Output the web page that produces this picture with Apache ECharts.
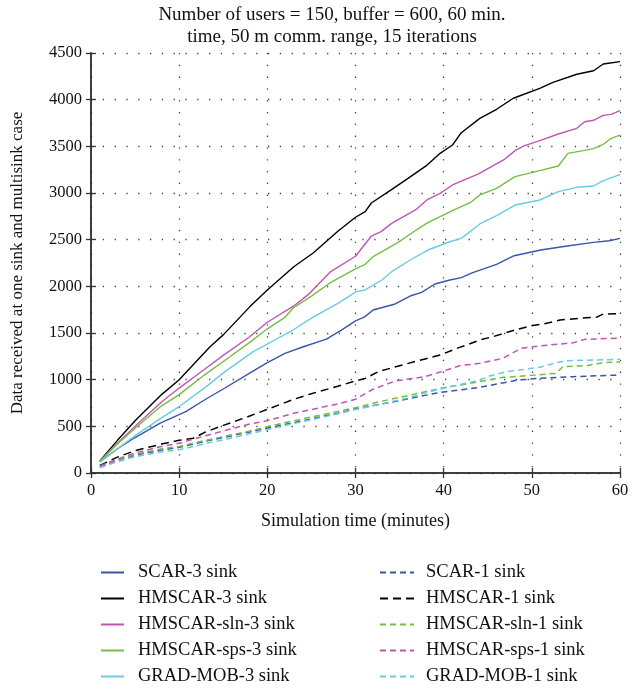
<!DOCTYPE html>
<html><head><meta charset="utf-8">
<script src="https://cdn.jsdelivr.net/npm/echarts@6/dist/echarts.min.js"></script>
<style>html,body{margin:0;padding:0;background:#fff}#c{width:632px;height:691px}</style>
</head><body><div id="c"></div>
<script>
var titleLines = ['Number of users = 150, buffer = 600, 60 min.', 'time, 50 m comm. range, 15 iterations'];
var xName = 'Simulation time (minutes)';
var yName = 'Data received at one sink and multisink case';

var scar3 = [[1,120],[3,260],[5,380],[7.8,532],[10.8,660],[13,790],[15,900],[18,1070],[20,1182],[22,1282],[24,1350],[26.7,1435],[28.4,1530],[30,1630],[31,1670],[32,1746],[34.5,1811],[36.2,1896],[37.5,1936],[39,2025],[40.7,2068],[42,2093],[43.3,2146],[46,2236],[48,2328],[51,2389],[54,2432],[57,2471],[58.8,2489],[60,2514]];
var hmscar3 = [[1,130],[3,350],[5,560],[8,840],[10,1000],[13.5,1353],[15,1480],[18,1780],[20,1960],[23,2210],[25.2,2357],[28,2590],[30,2740],[31.1,2800],[31.8,2893],[34,3030],[36,3160],[38,3290],[39.6,3425],[41,3514],[42,3646],[44.1,3800],[46,3897],[47.9,4015],[50.9,4122],[52.4,4186],[55.1,4272],[57,4310],[58.1,4382],[60,4407]];
var hmscarSln3 = [[1,125],[3,320],[5,500],[8,760],[10,910],[13,1120],[15,1260],[18,1460],[20,1615],[23,1790],[24.8,1925],[27.1,2152],[30,2322],[31.8,2539],[32.9,2586],[34.1,2675],[36.9,2825],[38.2,2932],[39.6,2996],[41,3086],[43.9,3203],[46.9,3361],[48.1,3454],[49.1,3504],[50.9,3561],[53,3632],[55.1,3693],[56,3764],[57,3779],[58.1,3832],[59,3843],[60,3882]];
var hmscarSps3 = [[1,125],[3,310],[5,480],[8,720],[10,840],[13,1060],[15,1195],[18,1400],[20,1545],[22,1668],[22.9,1766],[25,1895],[27.1,2036],[30.1,2193],[31,2229],[32,2318],[34.8,2468],[36.2,2561],[38.2,2682],[39.6,2746],[41.3,2825],[43,2896],[44.1,2979],[46,3050],[48.1,3175],[50.9,3239],[53,3289],[54.1,3425],[55.8,3454],[57,3475],[58.1,3522],[59,3586],[60,3621]];
var gradMob3 = [[1,115],[3,260],[5,400],[8,590],[10,712],[13,920],[15.2,1086],[18.4,1300],[21,1433],[22.9,1532],[25,1660],[28,1818],[30.1,1943],[31.1,1961],[33,2068],[34.1,2157],[36.2,2282],[38.2,2389],[40.7,2478],[42,2514],[44.1,2668],[46,2757],[48.1,2871],[50.9,2925],[53,3014],[55.1,3061],[57,3075],[58.1,3132],[60,3196]];

var scar1 = [[1,65],[3,135],[5,190],[8,245],[10,275],[13,340],[15,380],[18,440],[20,482],[23,540],[25,580],[28,640],[30,688],[33,740],[36,795],[39.6,864],[44.1,918],[47.5,979],[48.4,996],[50.9,1014],[54.7,1032],[60,1050]];
var hmscar1 = [[1,80],[3,170],[5,240],[8,310],[10,350],[11.6,372],[13,440],[15,510],[18,610],[20,682],[23,790],[25,850],[28,930],[30,986],[31.1,1014],[32.6,1086],[35,1150],[38,1225],[39.6,1264],[41.8,1346],[42.6,1371],[44.1,1425],[45.6,1461],[47.7,1521],[49.8,1575],[51.3,1596],[53.2,1639],[56.2,1664],[57.3,1668],[58.1,1704],[60,1707]];
var hmscarSln1 = [[1,70],[3,140],[5,200],[8,260],[10,285],[13,350],[15,390],[18,450],[20,497],[23,560],[25,600],[28,660],[30,700],[33,770],[36,830],[39.6,907],[44.1,979],[46.8,1025],[49.8,1046],[52.8,1068],[53.5,1139],[56.2,1150],[58.1,1182],[60,1190]];
var hmscarSps1 = [[1,75],[3,150],[5,215],[8,285],[10,318],[13,400],[15,450],[18,525],[20,560],[23,640],[25,680],[28,740],[30,790],[31.8,889],[34.5,986],[37.9,1032],[40.7,1114],[41.8,1150],[44.1,1175],[46.7,1229],[48.8,1336],[50.9,1361],[54.7,1396],[56,1432],[60,1446]];
var gradMob1 = [[1,55],[3,120],[5,175],[8,225],[10,248],[13,315],[15,355],[18,420],[20,465],[23,530],[25,570],[28,635],[30,680],[33,740],[36,805],[38,860],[39.6,900],[42,950],[44.1,996],[45.2,1039],[47.1,1086],[50.9,1132],[52.8,1182],[54,1203],[60,1218]];

var names3 = ['SCAR-3 sink','HMSCAR-3 sink','HMSCAR-sln-3 sink','HMSCAR-sps-3 sink','GRAD-MOB-3 sink'];
var names1 = ['SCAR-1 sink','HMSCAR-1 sink','HMSCAR-sln-1 sink','HMSCAR-sps-1 sink','GRAD-MOB-1 sink'];
var data3 = [scar3, hmscar3, hmscarSln3, hmscarSps3, gradMob3];
var data1 = [scar1, hmscar1, hmscarSln1, hmscarSps1, gradMob1];
var colors3 = ['#3a54aa','#000000','#c254b4','#72bf42','#68cce0'];
var colors1 = ['#3a54aa','#000000','#72bf42','#c254b4','#68cce0'];

var FONT = '"Liberation Serif", "DejaVu Serif", serif';
var series = [];
for (var i = 0; i < 5; i++) {
  series.push({name: names3[i], type: 'line', data: data3[i], symbol: 'none', z: 3,
    lineStyle: {color: colors3[i], width: 1.4}, itemStyle: {color: colors3[i]}});
}
for (var j = 0; j < 5; j++) {
  series.push({name: names1[j], type: 'line', data: data1[j], symbol: 'none', z: 3,
    lineStyle: {color: colors1[j], width: 1.5, type: j === 1 ? [8,5] : [6,4]}, itemStyle: {color: colors1[j]}});
}
var dotted = {show: true, lineStyle: {color: '#444', width: 1.3, type: [1.3, 10.5]}};
var axisLine = {show: true, lineStyle: {color: '#333', width: 1.5}};
var tick = {show: true, inside: true, length: 5, lineStyle: {color: '#333', width: 1.3}};
var legendText = {fontFamily: FONT, fontSize: 18.5, color: '#111', lineHeight: 19};
var chart = echarts.init(document.getElementById('c'), null, {renderer: 'canvas'});
chart.setOption({
  animation: false,
  backgroundColor: '#fff',
  textStyle: {fontFamily: FONT},
  title: {text: titleLines.join('\n'), left: 327, top: -1, textAlign: 'center',
    textStyle: {fontFamily: FONT, fontSize: 19, fontWeight: 'normal', color: '#111', lineHeight: 22}},
  grid: {left: 91, right: 12, top: 53, bottom: 218, containLabel: false},
  legend: [
    {data: names3, orient: 'vertical', left: 100, top: 563, padding: 0, itemWidth: 23, itemHeight: 14, itemGap: 7,
      itemStyle: {opacity: 0}, textStyle: Object.assign({padding: [0,0,0,9]}, legendText)},
    {data: names1, orient: 'vertical', left: 379, top: 563, padding: 0, itemWidth: 34, itemHeight: 14, itemGap: 7,
      itemStyle: {opacity: 0}, textStyle: Object.assign({padding: [0,0,0,7]}, legendText)}
  ],
  xAxis: [
    {type: 'value', min: 0, max: 60, interval: 10, position: 'bottom',
      name: xName, nameLocation: 'middle', nameGap: 39,
      nameTextStyle: {fontFamily: FONT, fontSize: 18, color: '#111'},
      axisLine: axisLine, axisTick: tick,
      axisLabel: {fontFamily: FONT, fontSize: 16.5, color: '#111', margin: 9},
      splitLine: dotted},
    {type: 'value', min: 0, max: 60, interval: 10, position: 'top',
      axisLine: axisLine, axisTick: tick, axisLabel: {show: false}, splitLine: {show: false}}
  ],
  yAxis: [
    {type: 'value', min: 0, max: 4500, interval: 500, position: 'left',
      name: yName, nameLocation: 'middle', nameGap: 65, nameRotate: 90,
      nameTextStyle: {fontFamily: FONT, fontSize: 17, color: '#111'},
      axisLine: axisLine, axisTick: tick,
      axisLabel: {fontFamily: FONT, fontSize: 16.5, color: '#111', margin: 9, formatter: function (v) { return String(v); }},
      splitLine: dotted},
    {type: 'value', min: 0, max: 4500, interval: 500, position: 'right',
      axisLine: axisLine, axisTick: tick, axisLabel: {show: false}, splitLine: {show: false}}
  ],
  series: series
});
</script></body></html>
